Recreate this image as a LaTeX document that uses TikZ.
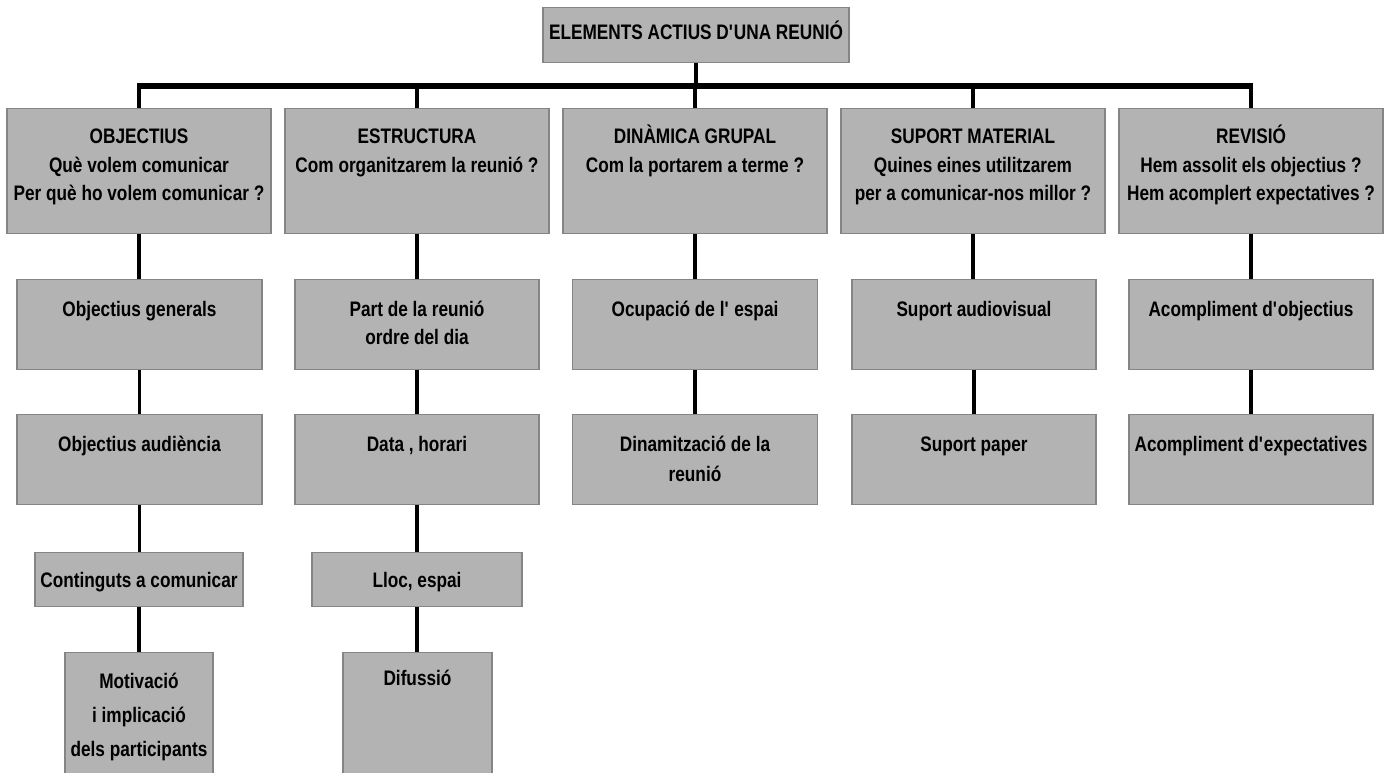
\documentclass[tikz,border=0pt]{standalone}
\usepackage{fontspec}
\setmainfont{Liberation Sans}[FakeStretch=0.82]
\definecolor{boxfill}{HTML}{B3B3B3}
\definecolor{boxline}{HTML}{858585}
\newcommand\tb[4]{\parbox[c][#2][t]{#1}{\centering\rule{0pt}{#3}#4}}
\newcommand\ap{\textquotesingle}
\begin{document}
\begin{tikzpicture}[x=1pt,y=-1pt,
  box/.style={draw=boxline, fill=boxfill, line width=1.4pt, inner sep=0pt, anchor=north,
    font=\fontsize{21}{28.5}\selectfont\bfseries},
  conn/.style={line width=3.5pt, black},
  barline/.style={line width=5.5pt, black, shorten <=-1.75pt, shorten >=-1.75pt}]
\clip (0,0) rectangle (1390,772);
% top
\node[box] (top) at (696,7) {\tb{306pt}{55pt}{31.5pt}{ELEMENTS ACTIUS D\ap UNA REUNIÓ}};
% level 1
\node[box] (h1) at (139,108) {\tb{264pt}{125pt}{35pt}{OBJECTIUS\\Què volem comunicar\\Per què ho volem comunicar ?}};
\node[box] (h2) at (417,108) {\tb{264pt}{125pt}{35pt}{ESTRUCTURA\\Com organitzarem la reunió ?}};
\node[box] (h3) at (695,108) {\tb{264pt}{125pt}{35pt}{DINÀMICA GRUPAL\\Com la portarem a terme ?}};
\node[box] (h4) at (973,108) {\tb{264pt}{125pt}{35pt}{SUPORT MATERIAL\\Quines eines utilitzarem\\per a comunicar-nos millor ?}};
\node[box] (h5) at (1251,108) {\tb{264pt}{125pt}{35pt}{REVISIÓ\\Hem assolit els objectius ?\\Hem acomplert expectatives ?}};
% column 1
\node[box] (c11) at (139.5,279) {\tb{245pt}{90pt}{36.5pt}{Objectius generals}};
\node[box] (c12) at (139.5,414) {\tb{245pt}{90pt}{36.5pt}{Objectius audiència}};
\node[box] (c13) at (139,552) {\tb{208pt}{54pt}{35pt}{Continguts a comunicar}};
\node[box] (c14) at (139,652) {\fontsize{21}{34}\selectfont\tb{148pt}{130pt}{35.5pt}{Motivació\\i implicació\\dels participants}};
% column 2
\node[box] (c21) at (417,279) {\tb{244pt}{90pt}{36.5pt}{Part de la reunió\\ordre del dia}};
\node[box] (c22) at (417,414) {\tb{244pt}{90pt}{36.5pt}{Data , horari}};
\node[box] (c23) at (417,552) {\tb{210pt}{54pt}{35pt}{Lloc, espai}};
\node[box] (c24) at (417.5,652) {\tb{149pt}{130pt}{32.5pt}{Difussió}};
% column 3
\node[box] (c31) at (695,279) {\tb{245pt}{90pt}{36.5pt}{Ocupació de l\ap{} espai}};
\node[box] (c32) at (695,414) {\fontsize{21}{30}\selectfont\tb{245pt}{90pt}{36.5pt}{Dinamització de la\\reunió}};
% column 4
\node[box] (c41) at (974,279) {\tb{244pt}{90pt}{36.5pt}{Suport audiovisual}};
\node[box] (c42) at (974,414) {\tb{244pt}{90pt}{36.5pt}{Suport paper}};
% column 5
\node[box] (c51) at (1251,279) {\tb{244pt}{90pt}{36.5pt}{Acompliment d\ap objectius}};
\node[box] (c52) at (1251,414) {\tb{244pt}{90pt}{36.5pt}{Acompliment d\ap expectatives}};
% bar
\coordinate (barL) at (139,86);
\draw[barline] (h1.north |- barL) -- (h5.north |- barL);
\draw[conn] (top.south) -- (top.south |- barL);
\foreach \h in {h1,h2,h3,h4,h5}{\draw[conn] (\h.north |- barL) -- (\h.north);}
% vertical connectors
\draw[conn] (h1.south) -- (h1.south |- c11.north);
\draw[conn] (c11.south) -- (c11.south |- c12.north);
\draw[conn] (c12.south) -- (c12.south |- c13.north);
\draw[conn] (c13.south) -- (c13.south |- c14.north);
\draw[conn] (h2.south) -- (h2.south |- c21.north);
\draw[conn] (c21.south) -- (c21.south |- c22.north);
\draw[conn] (c22.south) -- (c22.south |- c23.north);
\draw[conn] (c23.south) -- (c23.south |- c24.north);
\draw[conn] (h3.south) -- (h3.south |- c31.north);
\draw[conn] (c31.south) -- (c31.south |- c32.north);
\draw[conn] (h4.south) -- (h4.south |- c41.north);
\draw[conn] (c41.south) -- (c41.south |- c42.north);
\draw[conn] (h5.south) -- (h5.south |- c51.north);
\draw[conn] (c51.south) -- (c51.south |- c52.north);
\end{tikzpicture}
\end{document}
